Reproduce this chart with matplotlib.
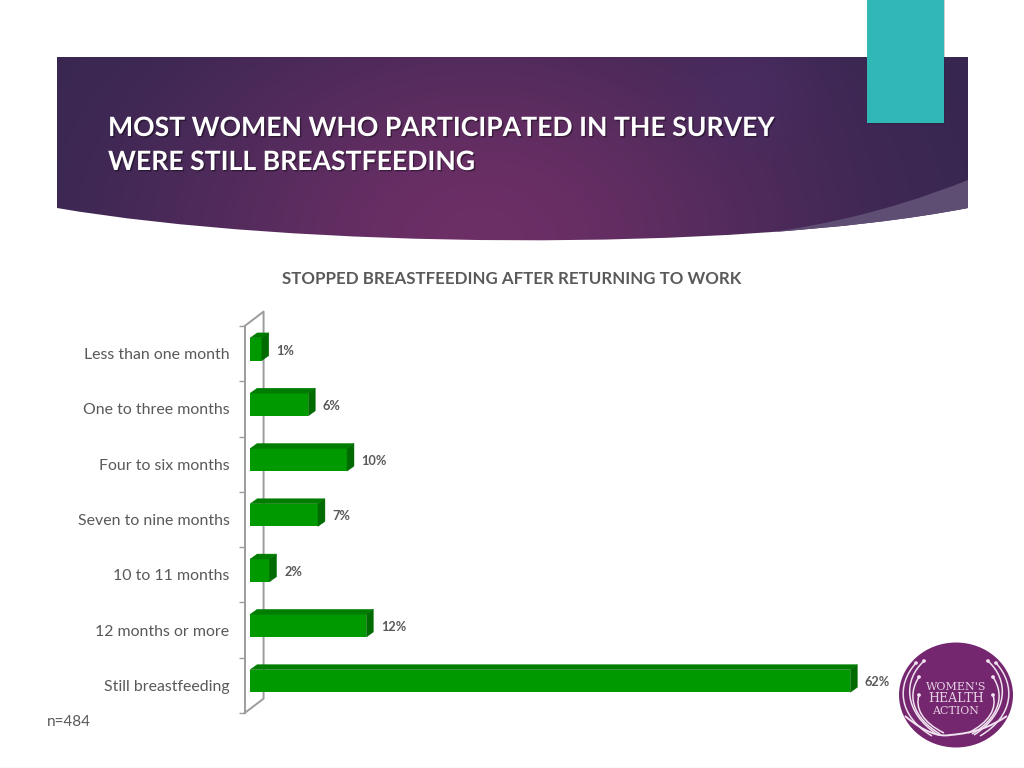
import numpy as np
import matplotlib
matplotlib.use("Agg")
import matplotlib.pyplot as plt
import matplotlib.patheffects as pe
from matplotlib.patches import Polygon, PathPatch, Ellipse, Rectangle
from matplotlib.path import Path

categories = ["Less than one month", "One to three months", "Four to six months",
              "Seven to nine months", "10 to 11 months", "12 months or more",
              "Still breastfeeding"]
values = [1.2, 6, 10, 7, 2, 12, 62]
value_labels = ["1%", "6%", "10%", "7%", "2%", "12%", "62%"]

title_lines = ["MOST WOMEN WHO PARTICIPATED IN THE SURVEY", "WERE STILL BREASTFEEDING"]
chart_title = "STOPPED BREASTFEEDING AFTER RETURNING TO WORK"
note = "n=484"
logo_words = ["WOMEN'S", "HEALTH", "ACTION"]

GREY = "#595959"
plt.rcParams["font.family"] = ["Lato", "DejaVu Sans"]

fig = plt.figure(figsize=(10.24, 7.68), dpi=100, facecolor="white")

# slide furniture, in pixel coords
bg = fig.add_axes([0, 0, 1, 1])
bg.set_xlim(0, 1024)
bg.set_ylim(768, 0)
bg.axis("off")

def hexrgb(c):
    return np.array(matplotlib.colors.to_rgb(c))

# banner gradient
xx, yy = np.meshgrid(np.linspace(57, 968, 456), np.linspace(57, 242, 93))
dark = hexrgb("#33264f")
mag = hexrgb("#6c2f66")
pur = hexrgb("#4c2d69")
w1 = np.exp(-((xx - 480) / 330) ** 2 - ((yy - 240) / 240) ** 2)
w2 = 0.55 * np.exp(-((xx - 745) / 65) ** 2 - ((yy - 85) / 60) ** 2)
img = dark[None, None, :] * np.ones(xx.shape + (3,))
img = img * (1 - w1[..., None]) + mag * w1[..., None]
img = img * (1 - w2[..., None]) + pur * w2[..., None]
banner_path = Path([(57, 57), (968, 57), (968, 208), (730, 254), (290, 248), (57, 208), (57, 57)],
                   [Path.MOVETO, Path.LINETO, Path.LINETO, Path.CURVE4, Path.CURVE4, Path.CURVE4, Path.CLOSEPOLY])
banner = PathPatch(banner_path, fc="none", ec="none")
bg.add_patch(banner)
im = bg.imshow(img, extent=(57, 968, 242, 57), aspect="auto", zorder=1, interpolation="bilinear")
im.set_clip_path(banner)
bg.set_xlim(0, 1024)
bg.set_ylim(768, 0)

swoosh = Path([(968, 180), (880, 215), (790, 235), (680, 241), (680, 255), (968, 255), (968, 180)],
              [Path.MOVETO, Path.CURVE4, Path.CURVE4, Path.CURVE4, Path.LINETO, Path.LINETO, Path.CLOSEPOLY])
sw = PathPatch(swoosh, fc="#5f4e74", ec="none", zorder=2)
bg.add_patch(sw)
sw.set_clip_path(banner)

# teal tab
bg.add_patch(Rectangle((868, 0), 77, 124.5, fc="#1c1c2c", ec="none", alpha=0.2, zorder=3))
bg.add_patch(Rectangle((867, 0), 77, 123, fc="#2fb8b5", ec="none", zorder=4))

shadow = [pe.SimplePatchShadow(offset=(1, -1), shadow_rgbFace="black", alpha=0.4), pe.Normal()]
for line, y in zip(title_lines, [128, 162]):
    bg.text(108, y, line, color="white", fontsize=19.15, fontweight="bold",
            va="center", ha="left", zorder=5, path_effects=shadow)

bg.text(512, 279, chart_title, color=GREY, fontsize=12.2, fontweight="bold", ha="center", va="center")
bg.text(47, 722, note, color=GREY, fontsize=11, ha="left", va="center")
bg.plot([0, 1024], [767.5, 767.5], color="#e6e6e6", lw=1)

# logo
lx, ly = 956, 695
bg.add_patch(Ellipse((lx, ly), 114, 105, fc="#74276f", ec="none", zorder=2))
strands = [((924, 661), (903, 680), (903, 712), (938, 735)),
           ((916, 663), (896, 685), (898, 716), (932, 736)),
           ((919, 677), (907, 695), (912, 717), (940, 734)),
           ((919, 695), (915, 708), (922, 722), (944, 733))]
for p0, p1, p2, p3 in strands:
    for sign in (1, -1):
        pts = [(lx + sign * (p[0] - lx), p[1]) for p in (p0, p1, p2, p3)]
        bg.add_patch(PathPatch(Path(pts, [Path.MOVETO, Path.CURVE4, Path.CURVE4, Path.CURVE4]),
                               fc="none", ec="#f0e2ef", lw=1.1, zorder=3))
        bg.add_patch(Ellipse(pts[0], 3.8, 3.6, fc="#f0e2ef", ec="none", zorder=3))
hand = Path([(905, 716), (925, 733), (940, 737), (950, 735), (975, 733), (990, 727), (1007, 716)],
            [Path.MOVETO, Path.CURVE4, Path.CURVE4, Path.CURVE4, Path.CURVE4, Path.CURVE4, Path.CURVE4])
bg.add_patch(PathPatch(hand, fc="none", ec="#f0e2ef", lw=1.4, zorder=3))
for word, y, fs in zip(logo_words, [687, 699, 711], [8.0, 9.0, 7.9]):
    bg.text(lx, y, word, color="#e8d3e6", fontsize=fs, family="DejaVu Serif", ha="center", va="center", zorder=4)

# chart axes: x=0 is the front axis line at px 244.7
px_per_pct = 9.68
xmax = 66
left_px, top_px, bottom_px = 244.7, 326, 713
ax = fig.add_axes([left_px / 1024, 1 - bottom_px / 768, xmax * px_per_pct / 1024, (bottom_px - top_px) / 768])
ax.patch.set_alpha(0)
ax.set_xlim(0, xmax)
ax.set_ylim(6.5, -0.5)
y_pos = np.arange(len(categories))

bar_left = 0.57
bar_h = 0.41
shift = 0.08
dx = 0.72
dy = 0.09

ax.barh(y_pos - shift, values, left=bar_left, height=bar_h, color="#009a00", zorder=4)
for y, v in zip(y_pos - shift, values):
    x1 = bar_left + v
    top = y - bar_h / 2
    bot = y + bar_h / 2
    ax.add_patch(Polygon([(bar_left, top), (bar_left + dx, top - dy), (x1 + dx, top - dy), (x1, top)],
                         fc="#007d00", ec="#007d00", lw=0.3, zorder=4))
    ax.add_patch(Polygon([(x1, top), (x1 + dx, top - dy), (x1 + dx, bot - dy), (x1, bot)],
                         fc="#006b00", ec="#006b00", lw=0.3, zorder=4))

for y, v, lab in zip(y_pos - shift, values, value_labels):
    ax.annotate(lab, (bar_left + v, y), xytext=(10.5, -1), textcoords="offset points", color=GREY,
                fontsize=9.2, fontweight="bold", ha="left", va="center")

for s in ["top", "right", "bottom"]:
    ax.spines[s].set_visible(False)
ax.spines["left"].set_color("#9c9c9c")
ax.spines["left"].set_linewidth(1.4)
ax.xaxis.set_visible(False)
ax.set_yticks(y_pos)
ax.set_yticklabels(categories, color=GREY, fontsize=11.4)
ax.tick_params(axis="y", which="major", length=0, pad=11)
ax.set_yticks(np.arange(-0.5, 7, 1), minor=True)
ax.tick_params(axis="y", which="minor", length=4.5, width=1, color="#9c9c9c")

# back wall of the 3d box
wall_x = 1.95
wall_y = 0.26
ax.plot([0, wall_x, wall_x, 0], [-0.5, -0.5 - wall_y, 6.5 - wall_y, 6.5],
        color="#9c9c9c", lw=1.4, clip_on=False, zorder=2)

fig.savefig("out.png", dpi=100)
